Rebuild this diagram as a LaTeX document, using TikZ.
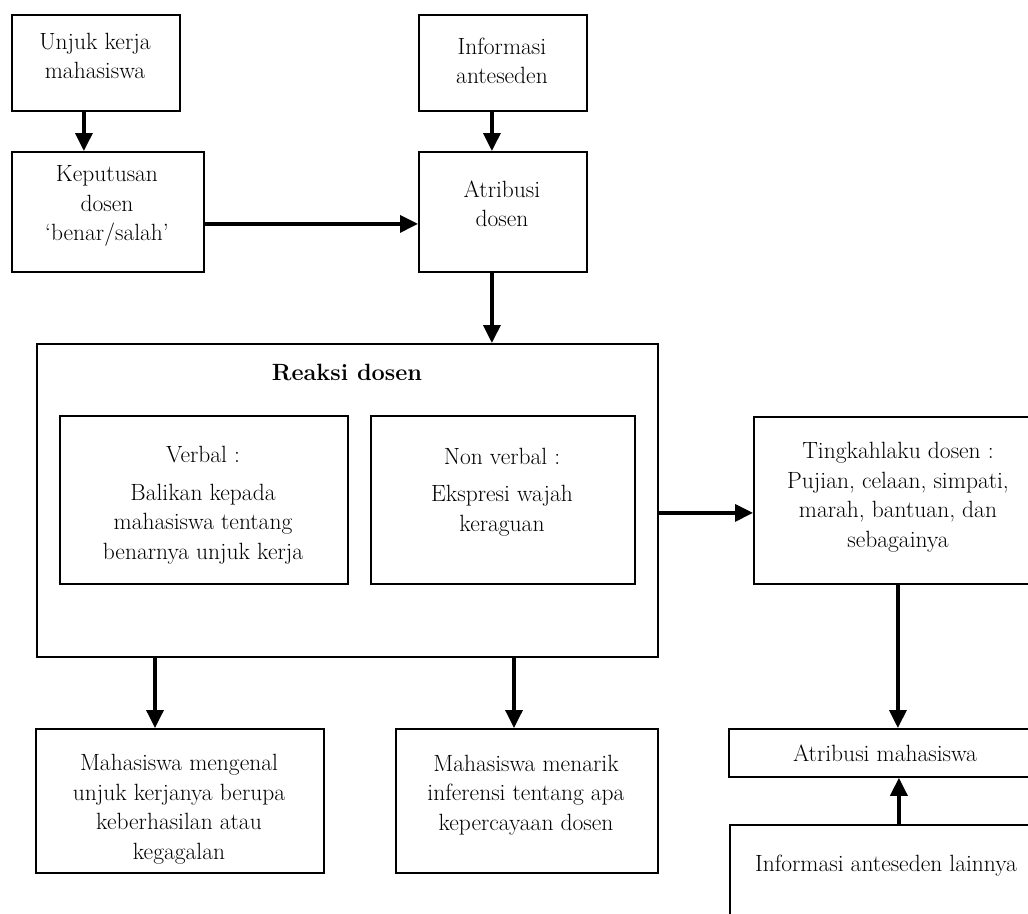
\documentclass[tikz,border=0pt]{standalone}
\usetikzlibrary{arrows.meta}
\begin{document}
\begin{tikzpicture}[x=1pt,y=-1pt,
  box/.style={draw=black, line width=1.8pt, rectangle, inner sep=0pt, anchor=north west},
  txt/.style={align=center, inner sep=0pt, font=\fontsize{23.5pt}{29.5pt}\selectfont},
  arr/.style={line width=3.5pt, -{Triangle[width=17pt,length=18pt]}}]
\useasboundingbox (0,0) rectangle (1028,913);
\clip (0,0) rectangle (1028,913);
% boxes
\node[box, minimum width=168pt, minimum height=96pt]  (A)  at (11,14)   {};
\node[box, minimum width=192pt, minimum height=120pt] (B)  at (11,151)  {};
\node[box, minimum width=168pt, minimum height=96pt]  (C)  at (418,14)  {};
\node[box, minimum width=168pt, minimum height=120pt] (D)  at (418,151) {};
\node[box, minimum width=621pt, minimum height=313pt] (R)  at (36,343)  {};
\node[box, minimum width=288pt, minimum height=168pt] (V)  at (59,415)  {};
\node[box, minimum width=264pt, minimum height=168pt] (N)  at (370,415) {};
\node[box, minimum width=290pt, minimum height=167pt] (T)  at (753,416) {};
\node[box, minimum width=315pt, minimum height=48pt]  (AM) at (728,728) {};
\node[box, minimum width=314pt, minimum height=120pt] (IL) at (729,824) {};
\node[box, minimum width=288pt, minimum height=144pt] (M1) at (35,728)  {};
\node[box, minimum width=262pt, minimum height=144pt] (M2) at (395,728) {};
% texts
\node[txt] (At) at (95,56) {Unjuk kerja\\mahasiswa};
\node[txt] (Bt) at (107,206) {Keputusan\\dosen\\`benar/salah'};
\node[txt] (Ct) at (502,61) {Informasi\\anteseden};
\node[txt] (Dt) at (502,204) {Atribusi\\dosen};
\node[txt, font=\fontsize{23.5pt}{29.5pt}\selectfont\bfseries] (Rt) at (347,372) {Reaksi dosen};
\node[txt] (Vt) at (203,505) {Verbal :\\[8pt]Balikan kepada\\mahasiswa tentang\\benarnya unjuk kerja};
\node[txt] (Nt) at (502,492) {Non verbal :\\[8pt]Ekspresi wajah\\keraguan};
\node[txt] (Tt) at (898,497) {Tingkahlaku dosen :\\Pujian, celaan, simpati,\\marah, bantuan, dan\\sebagainya};
\node[txt] (AMt) at (885,753) {Atribusi mahasiswa};
\node[txt] (ILt) at (886,866) {Informasi anteseden lainnya};
\node[txt] (M1t) at (179,809) {Mahasiswa mengenal\\unjuk kerjanya berupa\\keberhasilan atau\\kegagalan};
\node[txt] (M2t) at (526,795) {Mahasiswa menarik\\inferensi tentang apa\\kepercayaan dosen};
% connectors
\draw[arr] ([xshift=-12pt]A.south) -- ([xshift=-12pt]A.south |- B.north);
\draw[arr] ([xshift=-11pt]C.south) -- ([xshift=-11pt]C.south |- D.north);
\draw[arr] ([yshift=-12pt]B.east) -- ([yshift=-12pt]B.east -| D.west);
\draw[arr] ([xshift=-11pt]D.south) -- ([xshift=-11pt]D.south |- R.north);
\draw[arr] ([yshift=-12.5pt]R.east) -- ([yshift=-12.5pt]R.east -| T.west);
\draw[arr] ([xshift=-1pt]T.south) -- ([xshift=-1pt]T.south |- AM.north);
\draw[arr] (IL.north -| T.south) -- (AM.south -| T.south);
\draw[arr] (R.south -| 155,0) -- (M1.north -| 155,0);
\draw[arr] (R.south -| 514,0) -- (M2.north -| 514,0);
\end{tikzpicture}
\end{document}
